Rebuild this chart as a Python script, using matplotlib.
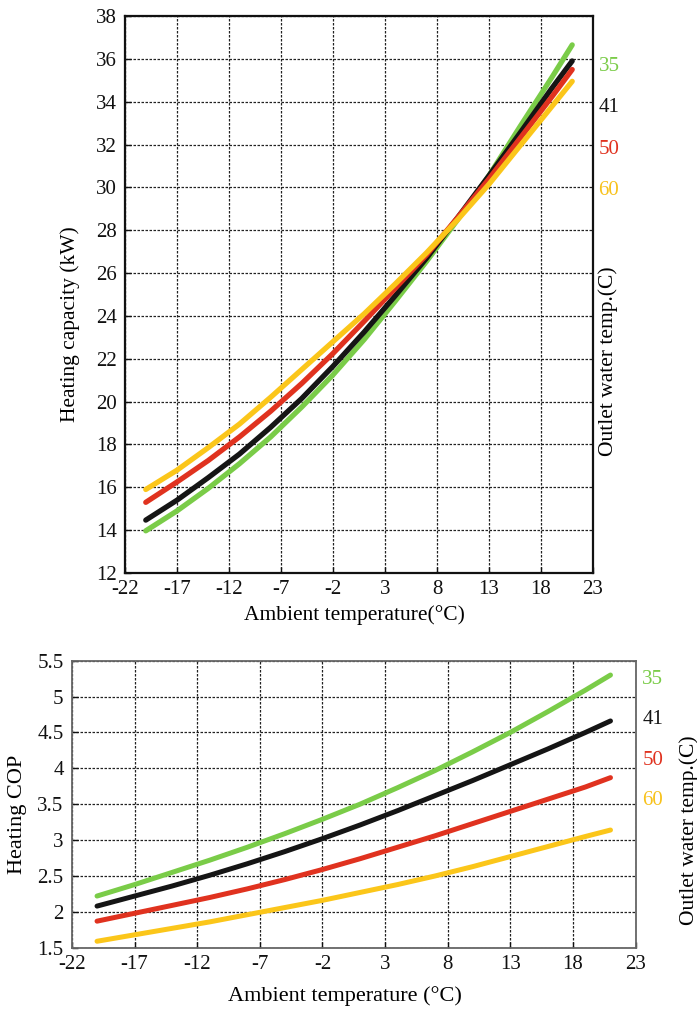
import matplotlib
matplotlib.use('Agg')
import matplotlib.pyplot as plt

plt.rcParams['font.family'] = ['Liberation Serif', 'DejaVu Serif']
plt.rcParams['axes.unicode_minus'] = False

# ambient temperature points (C)
AMB = [-20, -17, -14, -11, -8, -5, -2, 1, 4, 7, 10, 13, 16, 19, 21]

# heating capacity (kW) per outlet water temp
CAP_35 = [13.97, 14.9, 15.95, 17.1, 18.35, 19.75, 21.25, 22.9, 24.7, 26.55, 28.5, 30.55, 32.85, 35.1, 36.65]
CAP_41 = [14.47, 15.4, 16.45, 17.55, 18.8, 20.15, 21.65, 23.25, 24.95, 26.7, 28.6, 30.55, 32.55, 34.6, 35.9]
CAP_50 = [15.3, 16.25, 17.25, 18.35, 19.55, 20.85, 22.25, 23.75, 25.3, 26.85, 28.6, 30.4, 32.3, 34.2, 35.5]
CAP_60 = [15.9, 16.8, 17.85, 18.95, 20.2, 21.5, 22.8, 24.1, 25.5, 26.95, 28.5, 30.15, 31.95, 33.75, 34.95]

# heating COP per outlet water temp
COP_35 = [2.22, 2.38, 2.55, 2.72, 2.9, 3.09, 3.29, 3.5, 3.73, 3.97, 4.23, 4.5, 4.79, 5.09, 5.3]
COP_41 = [2.08, 2.22, 2.36, 2.51, 2.67, 2.84, 3.02, 3.21, 3.41, 3.62, 3.83, 4.05, 4.27, 4.5, 4.66]
COP_50 = [1.87, 1.98, 2.09, 2.2, 2.32, 2.45, 2.59, 2.74, 2.9, 3.06, 3.23, 3.4, 3.57, 3.74, 3.87]
COP_60 = [1.59, 1.68, 1.77, 1.86, 1.96, 2.06, 2.16, 2.27, 2.38, 2.5, 2.63, 2.77, 2.91, 3.05, 3.14]

WATER = ['35', '41', '50', '60']
LINE_COLORS = ['#7acc48', '#151515', '#e0321f', '#fbc61a']
TEXT_COLORS = ['#7acc48', '#151515', '#e0321f', '#f8c21c']

XTICKS = [-22, -17, -12, -7, -2, 3, 8, 13, 18, 23]
CAP_TICKS = list(range(12, 39, 2))
COP_TICKS = [1.5, 2, 2.5, 3, 3.5, 4, 4.5, 5, 5.5]
COP_LABELS = ['1.5', '2', '2.5', '3', '3.5', '4', '4.5', '5', '5.5']

FS_TICK = 15
FS_LAB = 15.5

fig = plt.figure(figsize=(6.97, 10.11), dpi=100)


def style_axes(ax, spine_color, spine_lw):
    ax.grid(True, color='#222222', linestyle=(0, (2, 1.2)), linewidth=0.9)
    ax.set_axisbelow(True)
    for s in ax.spines.values():
        s.set_color(spine_color)
        s.set_linewidth(spine_lw)
    ax.tick_params(direction='in', length=4, width=1, labelsize=FS_TICK,
                   colors='#111111')
    ax.tick_params(axis='y', pad=6)
    ax.tick_params(axis='x', pad=5)


# ---- top: heating capacity
ax1 = fig.add_axes([0.1793, 0.4332, 0.6715, 0.551])
for ys, c in zip([CAP_35, CAP_41, CAP_50, CAP_60], LINE_COLORS):
    ax1.plot(AMB, ys, color=c, lw=3.8, solid_capstyle='round')
ax1.set_xlim(-22, 23)
ax1.set_ylim(12, 38)
ax1.set_xticks(XTICKS)
ax1.set_yticks(CAP_TICKS)
style_axes(ax1, '#111111', 1.6)
ax1.set_xlabel('Ambient temperature(°C)', fontsize=FS_LAB)
ax1.xaxis.set_label_coords(0.491, -0.058)
ax1.set_ylabel('Heating capacity (kW)', fontsize=FS_LAB)
ax1.yaxis.set_label_coords(-0.096, 0.447)
for i, (w, c) in enumerate(zip(WATER, TEXT_COLORS)):
    ax1.text(1.012, 0.91 - i * 0.0745, w, transform=ax1.transAxes,
             color=c, fontsize=FS_TICK, va='center', ha='left')
ax1.text(1.033, 0.38, 'Outlet water temp.(C)', transform=ax1.transAxes,
         rotation=90, fontsize=FS_LAB, va='center', ha='center')

# ---- bottom: heating COP
ax2 = fig.add_axes([0.1033, 0.0626, 0.8085, 0.2839])
for ys, c in zip([COP_35, COP_41, COP_50, COP_60], LINE_COLORS):
    ax2.plot(AMB, ys, color=c, lw=3.6, solid_capstyle='round')
ax2.set_xlim(-22, 23)
ax2.set_ylim(1.5, 5.5)
ax2.set_xticks(XTICKS)
ax2.set_yticks(COP_TICKS)
ax2.set_yticklabels(COP_LABELS)
style_axes(ax2, '#666666', 1.3)
ax2.set_xlabel('Ambient temperature (°C)', fontsize=FS_LAB + 0.5)
ax2.xaxis.set_label_coords(0.484, -0.135)
ax2.set_ylabel('Heating COP', fontsize=FS_LAB + 0.5)
ax2.yaxis.set_label_coords(-0.08, 0.466)
for i, (w, c) in enumerate(zip(WATER, TEXT_COLORS)):
    ax2.text(1.012, 0.935 - i * 0.141, w, transform=ax2.transAxes,
             color=c, fontsize=FS_TICK, va='center', ha='left')
ax2.text(1.095, 0.41, 'Outlet water temp.(C)', transform=ax2.transAxes,
         rotation=90, fontsize=FS_LAB, va='center', ha='center')

fig.savefig('out.png', dpi=100)
